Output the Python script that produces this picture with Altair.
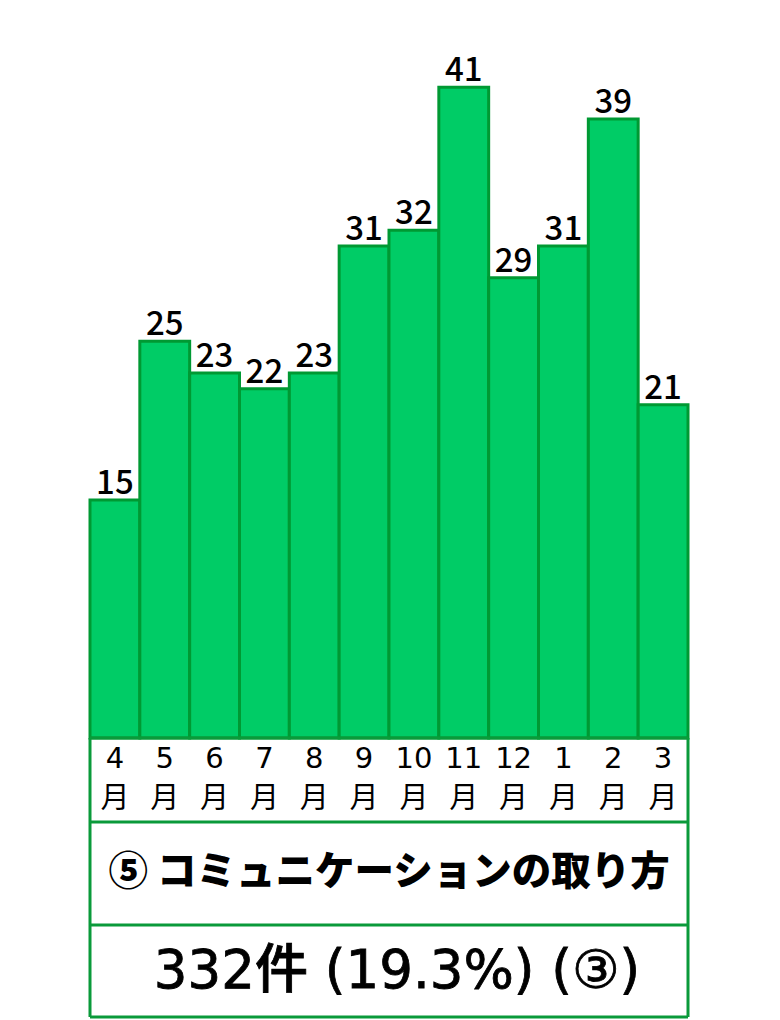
import altair as alt
import pandas as pd

months = ["4", "5", "6", "7", "8", "9", "10", "11", "12", "1", "2", "3"]
values = [15, 25, 23, 22, 23, 31, 32, 41, 29, 31, 39, 21]
title_text = "⑤ コミュニケーションの取り方"
count_text = "332件 (19.3%) (③)"

FONT = "Noto Sans CJK JP"
LATIN = "DejaVu Sans, Noto Sans CJK JP"
BAR_FILL = "#00cc66"
BAR_STROKE = "#009933"
BORDER = "#0a9a3a"

df = pd.DataFrame({"month": months, "value": values, "tsuki": ["月"] * len(months)})

W, H = 598, 1010
px_per = 15.87
d0 = -280 / px_per
d1 = d0 + H / px_per

x = alt.X("month:N", sort=months, axis=None,
          scale=alt.Scale(paddingInner=0, paddingOuter=0))
y = alt.Y("value:Q", axis=None, scale=alt.Scale(domain=[d0, d1], nice=False, zero=False))

base = alt.Chart(df)

bars = base.mark_bar(fill=BAR_FILL, stroke=BAR_STROKE, strokeWidth=3).encode(
    x=x, y=y, y2=alt.datum(0)
)

labels = base.mark_text(font=FONT, fontSize=33, fontWeight=500, color="black",
                        baseline="alphabetic", dy=-6).encode(
    x=x, y=y, text="value:Q"
)

month_num = base.mark_text(font=LATIN, fontSize=29, color="black", baseline="middle").encode(
    x=x, y=alt.value(751), text="month:N"
)
month_kanji = base.mark_text(font=FONT, fontSize=29, color="black", baseline="middle").encode(
    x=x, y=alt.value(791), text="tsuki:N"
)

hlines = pd.DataFrame({"yy": [730, 814, 917, 1009]})
h_rules = alt.Chart(hlines).mark_rule(color=BORDER, strokeWidth=3).encode(
    x=alt.value(0), x2=alt.value(W), y=alt.Y("yy:Q", scale=None)
)
vlines = pd.DataFrame({"xx": [0, W]})
v_rules = alt.Chart(vlines).mark_rule(color=BORDER, strokeWidth=3).encode(
    x=alt.X("xx:Q", scale=None), y=alt.value(730), y2=alt.value(1009)
)

title = alt.Chart(pd.DataFrame({"t": [title_text]})).mark_text(
    font=FONT, fontSize=39.5, fontWeight=900, color="black", baseline="middle"
).encode(x=alt.value(299), y=alt.value(865), text="t:N")

count = alt.Chart(pd.DataFrame({"t": [count_text]})).mark_text(
    font=LATIN, fontSize=53, fontWeight=500, color="black", baseline="middle",
    stroke="black", strokeWidth=0.8
).encode(x=alt.value(307), y=alt.value(964), text="t:N")

chart = alt.layer(bars, labels, month_num, month_kanji, h_rules, v_rules, title, count).properties(
    width=W, height=H,
    autosize=alt.AutoSizeParams(type="none"),
    padding={"left": 82, "top": 0, "right": 10, "bottom": 4},
).configure_view(stroke=None)

chart.save("out.html", embed_options={"renderer": "svg", "actions": False})
